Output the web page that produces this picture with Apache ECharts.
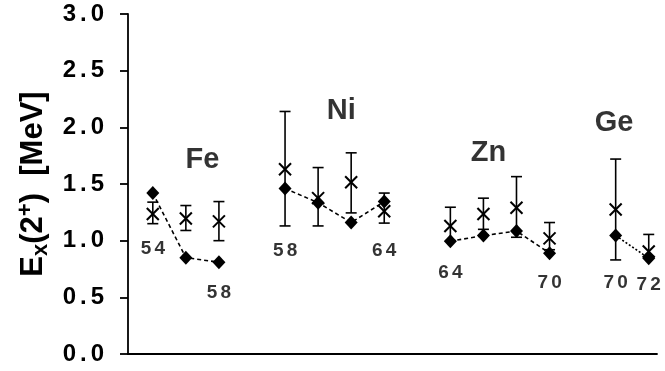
<!DOCTYPE html>
<html>
<head>
<meta charset="utf-8">
<script src="https://cdn.jsdelivr.net/npm/echarts@6/dist/echarts.min.js"></script>
<style>
  html, body { margin: 0; padding: 0; background: #fff; }
  #chart { width: 665px; height: 371px; }
</style>
</head>
<body>
<div id="chart"></div>
<script>
// Element groups and the horizontal slot of each isotope
const elements = ['Fe', 'Ni', 'Zn', 'Ge'];
const slotIndex = [[0, 1, 2], [4, 5, 6, 7], [9, 10, 11, 12], [14, 15]];
const massNumbers = [[54, 56, 58], [58, 60, 62, 64], [64, 66, 68, 70], [70, 72]];

// Filled diamonds joined by dashed lines (MeV)
const diamondValues = [
  [1.42, 0.85, 0.81],
  [1.46, 1.335, 1.16, 1.345],
  [0.995, 1.045, 1.085, 0.89],
  [1.045, 0.845]
];

// Crosses with error bars (MeV)
const crossValues = [
  [1.235, 1.195, 1.17],
  [1.63, 1.375, 1.515, 1.26],
  [1.13, 1.235, 1.29, 1.02],
  [1.275, 0.905]
];
const crossLow = [
  [1.15, 1.09, 1.0],
  [1.13, 1.13, 1.245, 1.155],
  [1.0, 1.10, 1.03, 0.92],
  [0.83, 0.86]
];
const crossHigh = [
  [1.34, 1.31, 1.345],
  [2.14, 1.645, 1.775, 1.42],
  [1.295, 1.375, 1.565, 1.16],
  [1.72, 1.055]
];

// Y axis ticks
const yTicks = [0.0, 0.5, 1.0, 1.5, 2.0, 2.5, 3.0];

// Annotations: mass-number labels and element names (placed in axis units)
const massLabelText = ['54', '58', '58', '64', '64', '70', '70', '72'];
const massLabelSlot = [0, 2, 4, 7, 9, 12, 14, 15];
const massLabelY = [0.93, 0.54, 0.91, 0.91, 0.72, 0.63, 0.63, 0.61];
const elementLabelSlot = [1.5, 5.7, 10.15, 13.95];
const elementLabelY = [1.71, 2.14, 1.77, 2.04];

const FONT = '"Liberation Sans", Arial, sans-serif';
const GAP = '\u2006';
// spread characters apart with narrow spaces
const spaced = s => String(s).split('').join(GAP);

const chart = echarts.init(document.getElementById('chart'), null, { renderer: 'canvas' });

const series = [];

// Error bars with cross markers
const barData = [];
elements.forEach((el, g) => {
  slotIndex[g].forEach((s, i) => {
    barData.push([s, crossValues[g][i], crossLow[g][i], crossHigh[g][i]]);
  });
});
series.push({
  type: 'custom',
  z: 2,
  data: barData,
  encode: { x: 0, y: [1, 2, 3] },
  renderItem: function (params, api) {
    const c = api.coord([api.value(0), api.value(1)]);
    const lo = api.coord([api.value(0), api.value(2)]);
    const hi = api.coord([api.value(0), api.value(3)]);
    const cap = 5.5, arm = 6;
    const st = { stroke: '#000', lineWidth: 1.6, fill: null };
    return {
      type: 'group',
      children: [
        { type: 'line', shape: { x1: c[0], y1: hi[1], x2: c[0], y2: lo[1] }, style: st },
        { type: 'line', shape: { x1: c[0] - cap, y1: hi[1], x2: c[0] + cap, y2: hi[1] }, style: st },
        { type: 'line', shape: { x1: c[0] - cap, y1: lo[1], x2: c[0] + cap, y2: lo[1] }, style: st },
        { type: 'line', shape: { x1: c[0] - arm, y1: c[1] - arm, x2: c[0] + arm, y2: c[1] + arm }, style: { stroke: '#000', lineWidth: 2 } },
        { type: 'line', shape: { x1: c[0] - arm, y1: c[1] + arm, x2: c[0] + arm, y2: c[1] - arm }, style: { stroke: '#000', lineWidth: 2 } }
      ]
    };
  }
});

// Diamonds connected within each element
elements.forEach((el, g) => {
  series.push({
    type: 'line',
    name: el,
    z: 3,
    data: slotIndex[g].map((s, i) => [s, diamondValues[g][i]]),
    symbol: 'diamond',
    symbolSize: [13, 14],
    showAllSymbol: true,
    itemStyle: { color: '#000' },
    lineStyle: { color: '#000', width: 1.6, type: g === 3 ? [2, 2] : [4, 3] },
    emphasis: { disabled: true },
    animation: false
  });
});

// Mass-number labels
series.push({
  type: 'scatter',
  z: 4,
  symbolSize: 0,
  data: massLabelText.map((t, i) => ({ value: [massLabelSlot[i], massLabelY[i]], name: t })),
  label: {
    show: true, position: 'inside', formatter: p => spaced(p.name),
    color: '#000', fontFamily: FONT, fontWeight: 'bold', fontSize: 19
  },
  silent: true
});

// Element names
series.push({
  type: 'scatter',
  z: 4,
  symbolSize: 0,
  data: elements.map((t, i) => ({ value: [elementLabelSlot[i], elementLabelY[i]], name: t })),
  label: {
    show: true, position: 'inside', formatter: p => p.name,
    color: '#000', fontFamily: FONT, fontWeight: 'bold', fontSize: 29
  },
  silent: true
});

chart.setOption({
  animation: false,
  backgroundColor: '#fff',
  grid: { left: 128, top: 14, width: 529, height: 340, containLabel: false },
  xAxis: {
    type: 'value', min: -0.75, max: 15.25,
    axisLine: { show: true, onZero: false, lineStyle: { color: '#000', width: 1.8 } },
    axisTick: { show: false }, axisLabel: { show: false }, splitLine: { show: false }
  },
  yAxis: {
    type: 'value', min: yTicks[0], max: yTicks[yTicks.length - 1], interval: 0.5,
    axisLine: { show: true, onZero: false, lineStyle: { color: '#000', width: 1.8 } },
    axisTick: { show: true, length: 8, lineStyle: { color: '#000', width: 1.8 } },
    splitLine: { show: false },
    axisLabel: {
      formatter: v => spaced(v.toFixed(1)), color: '#000', fontFamily: FONT,
      fontWeight: 'bold', fontSize: 24, margin: 24
    },
    name: '{b|E}{s|x}{b|(2}{p|+}{b|)  [MeV]}',
    nameLocation: 'middle', nameRotate: 90, nameGap: 75,
    nameTextStyle: {
      rich: {
        b: { fontFamily: FONT, fontWeight: 'bold', fontSize: 31, color: '#000' },
        s: { fontFamily: FONT, fontWeight: 'bold', fontSize: 22, color: '#000', padding: [14, 0, 0, 0] },
        p: { fontFamily: FONT, fontWeight: 'bold', fontSize: 22, color: '#000', padding: [0, 0, 16, 0] }
      }
    }
  },
  series: series
});
</script>
</body>
</html>
